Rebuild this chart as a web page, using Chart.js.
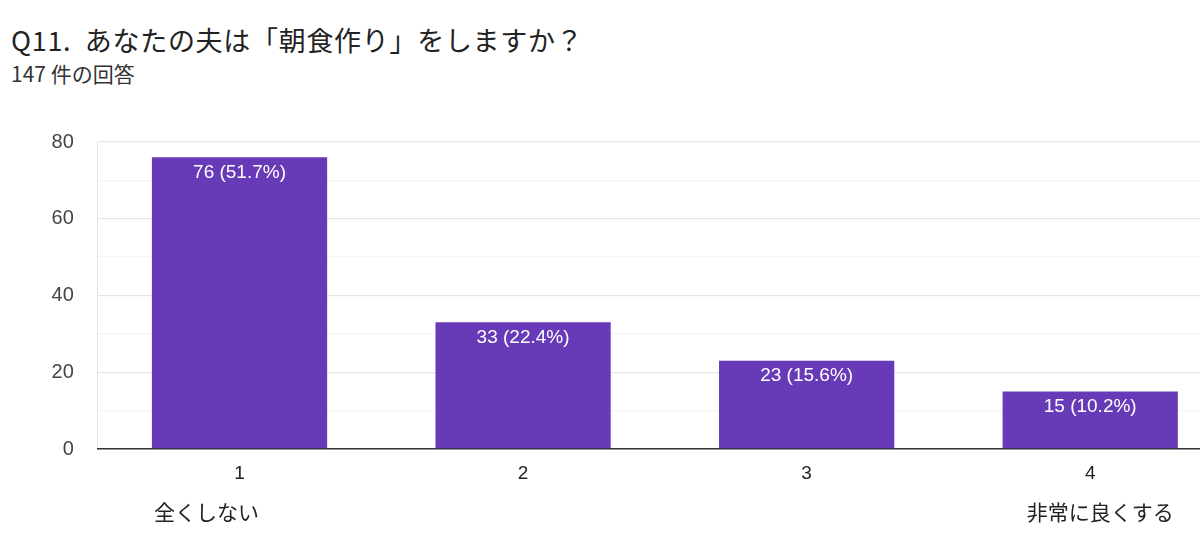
<!DOCTYPE html>
<html>
<head>
<meta charset="utf-8">
<script src="https://cdn.jsdelivr.net/npm/chart.js@4/dist/chart.umd.min.js"></script>
<style>
  html, body { margin: 0; padding: 0; background: #fff; overflow: hidden; }
  .page { position: relative; width: 1200px; height: 545px; overflow: hidden; }
  .title { position: absolute; left: 11px; top: 26px; font-family: "Noto Sans CJK JP", sans-serif; font-size: 27px; letter-spacing: 0.7px; color: #222; white-space: nowrap; line-height: 1; }
  .sub { position: absolute; left: 11px; top: 63px; font-family: "Noto Sans CJK JP", sans-serif; font-size: 21px; color: #333; white-space: nowrap; line-height: 1; }
  .chartBox { position: absolute; left: 0; top: 106px; width: 1232px; height: 439px; }
</style>
</head>
<body>
<div class="page">
  <div class="title">Q11.&nbsp;&nbsp;あなたの夫は「朝食作り」をしますか？</div>
  <div class="sub">147 件の回答</div>
  <div class="chartBox"><canvas id="chart"></canvas></div>
</div>
<script>
const categories = ["1", "2", "3", "4"];
const anchorLabels = ["全くしない", "", "", "非常に良くする"];
const counts = [76, 33, 23, 15];
const percents = ["51.7", "22.4", "15.6", "10.2"];
const yTicks = [0, 20, 40, 60, 80];

const latin = "'Liberation Sans', Arial, sans-serif";
const jp = "'Noto Sans CJK JP', sans-serif";

// white value labels inside the top of each bar,
// plus the scale-end captions under the first and last bar
const barLabels = {
  id: "barLabels",
  afterDatasetsDraw(chart) {
    const { ctx, chartArea } = chart;
    const meta = chart.getDatasetMeta(0);
    ctx.save();
    ctx.fillStyle = "#fff";
    ctx.font = "19px " + latin;
    ctx.textAlign = "center";
    ctx.textBaseline = "middle";
    meta.data.forEach((bar, i) => {
      ctx.fillText(`${counts[i]} (${percents[i]}%)`, bar.x, bar.y + 15);
    });

    ctx.fillStyle = "#222";
    ctx.font = "21px " + jp;
    const last = meta.data.length - 1;
    meta.data.forEach((bar, i) => {
      if (!anchorLabels[i]) return;
      if (i === 0) {
        ctx.textAlign = "left";
        ctx.fillText(anchorLabels[i], bar.x - bar.width / 2 + 2, chartArea.bottom + 63);
      } else if (i === last) {
        ctx.textAlign = "right";
        ctx.fillText(anchorLabels[i], bar.x + bar.width / 2 - 4, chartArea.bottom + 63);
      } else {
        ctx.textAlign = "center";
        ctx.fillText(anchorLabels[i], bar.x, chartArea.bottom + 63);
      }
    });
    ctx.restore();
  }
};

new Chart(document.getElementById("chart"), {
  type: "bar",
  data: {
    labels: categories,
    datasets: [{
      data: counts,
      backgroundColor: "#673ab7",
      borderWidth: 0,
      barPercentage: 0.618,
      categoryPercentage: 1
    }]
  },
  options: {
    responsive: true,
    maintainAspectRatio: false,
    animation: false,
    layout: { padding: { top: 9, left: 0, right: 0, bottom: 0 } },
    plugins: {
      legend: { display: false },
      tooltip: { enabled: false }
    },
    scales: {
      y: {
        min: 0,
        max: 80,
        ticks: {
          stepSize: 10,
          padding: 24,
          color: "#444",
          font: { size: 20, family: latin },
          callback: (v) => yTicks.includes(v) ? String(v) : ""
        },
        grid: {
          drawTicks: false,
          color: (c) => (c.tick && c.tick.value % 20 === 0) ? "#e6e6e6" : "#f4f4f4",
          lineWidth: 1.3
        },
        border: { display: true, color: "#e6e6e6" },
        afterFit: (s) => { s.width = 97.75; }
      },
      x: {
        grid: { display: false, drawTicks: false },
        border: { display: true, color: "#333", width: 1.6 },
        ticks: {
          padding: 13,
          color: "#222",
          font: { size: 19, family: latin },
          maxRotation: 0
        },
        afterFit: (s) => { s.height = 96; }
      }
    }
  },
  plugins: [barLabels]
});
</script>
</body>
</html>
